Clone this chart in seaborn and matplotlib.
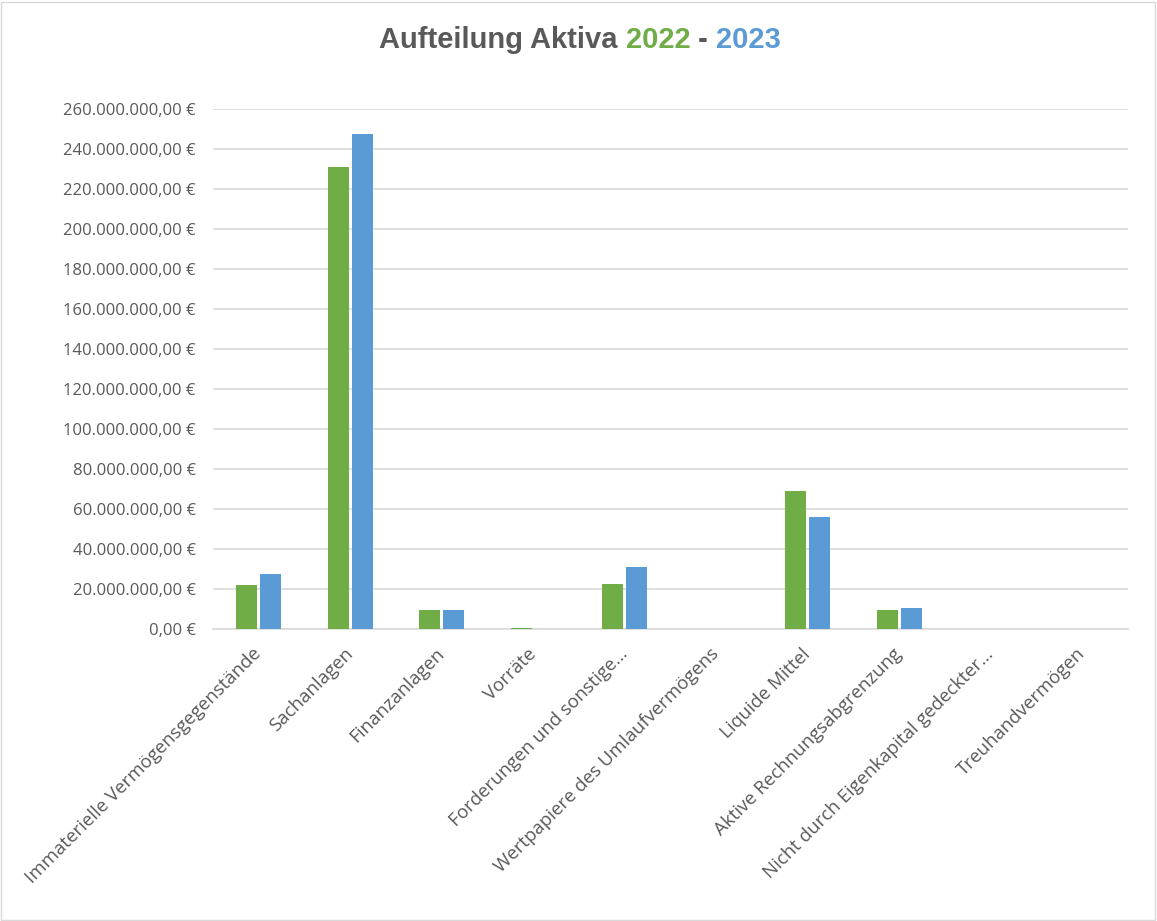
import pandas as pd
import matplotlib
matplotlib.use('Agg')
import matplotlib.pyplot as plt
import seaborn as sns
from matplotlib.ticker import FuncFormatter, MultipleLocator
from matplotlib.patches import Rectangle


categories = ['Immaterielle Vermögensgegenstände', 'Sachanlagen', 'Finanzanlagen', 'Vorräte',
              'Forderungen und sonstige...', 'Wertpapiere des Umlaufvermögens', 'Liquide Mittel',
              'Aktive Rechnungsabgrenzung', 'Nicht durch Eigenkapital gedeckter...', 'Treuhandvermögen']
values_2022 = [22.0e6, 231.0e6, 9.4e6, 0.3e6, 22.5e6, 0.0, 69.2e6, 9.7e6, 0.0, 0.0]
values_2023 = [27.5e6, 247.3e6, 9.4e6, 0.2e6, 30.8e6, 0.0, 55.8e6, 10.5e6, 0.0, 0.0]
years = ['2022', '2023']
colors = ['#70AD47', '#5B9BD5']

df = pd.DataFrame({
    'Posten': categories * 2,
    'Jahr': [years[0]] * len(categories) + [years[1]] * len(categories),
    'Wert': values_2022 + values_2023,
})

sns.set_style('white')
plt.rcParams['font.family'] = ['Open Sans', 'DejaVu Sans']

fig = plt.figure(figsize=(11.57, 9.21), dpi=100)
ax = fig.add_axes([213 / 1157, 1 - 629 / 921, 915 / 1157, 520 / 921])

sns.barplot(data=df, x='Posten', y='Wert', hue='Jahr', palette=colors, width=0.52, gap=0.11,
            saturation=1, linewidth=0, ax=ax, legend=False, zorder=3)

ax.set_ylim(0, 260e6)
ax.set_xlim(-0.5, len(categories) - 0.5)
ax.yaxis.set_major_locator(MultipleLocator(20e6))


def eur(v, pos):
    s = '{:,.2f}'.format(v).replace(',', 'X').replace('.', ',').replace('X', '.')
    return s + ' €'


ax.yaxis.set_major_formatter(FuncFormatter(eur))
ax.grid(axis='y', color='#D9D9D9', linewidth=1.2, zorder=0)
ax.set_axisbelow(True)
for s in ['top', 'right', 'left']:
    ax.spines[s].set_visible(False)
ax.spines['bottom'].set_color('#D9D9D9')
ax.spines['bottom'].set_linewidth(1.2)
ax.set_xlabel('')
ax.set_ylabel('')
ax.tick_params(axis='y', length=0, labelsize=12, labelcolor='#595959', pad=12.5)
ax.tick_params(axis='x', length=0, labelsize=13.4, labelcolor='#595959', pad=16)
plt.setp(ax.get_xticklabels(), rotation=45, ha='right', va='center', rotation_mode='anchor')

# title in three colours
parts = [('Aufteilung Aktiva ', '#595959'), ('2022', colors[0]), (' - ', '#595959'), ('2023', colors[1])]
fig.canvas.draw()
r = fig.canvas.get_renderer()
texts = []
for t, c in parts:
    texts.append(fig.text(0, 1 - 40 / 921, t, color=c, fontsize=21, fontweight='bold',
                          family=['Liberation Sans', 'DejaVu Sans'], va='center'))
widths = [tx.get_window_extent(r).width for tx in texts]
x = (580 - sum(widths) / 2)
for tx, w in zip(texts, widths):
    tx.set_x(x / 1157)
    x += w

fig.patches.append(Rectangle((0.001, 0.001), 0.997, 0.997, transform=fig.transFigure,
                             fill=False, edgecolor='#D9D9D9', linewidth=1))

fig.savefig('out.png', dpi=100)
